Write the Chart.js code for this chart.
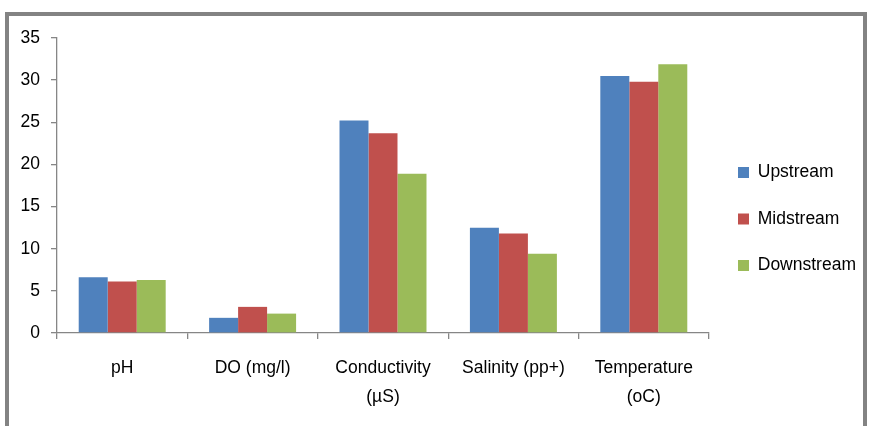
<!DOCTYPE html>
<html>
<head>
<meta charset="utf-8">
<script src="https://cdn.jsdelivr.net/npm/chart.js@4"></script>
<style>
  html, body { margin: 0; padding: 0; background: #fff; overflow: hidden; }
  #frame {
    position: absolute; left: 5px; top: 12px; width: 854px; height: 430px;
    border: 4px solid #838383; border-bottom: none;
  }
  #chart { position: absolute; left: 0; top: 0; }
</style>
</head>
<body>
<div id="frame"></div>
<canvas id="chart" width="870" height="426"></canvas>
<script>
// Water quality parameters measured at three stations along the river
const categories = [['pH'], ['DO (mg/l)'], ['Conductivity', '(\u00b5S)'], ['Salinity (pp+)'], ['Temperature', '(oC)']];
const seriesNames = ['Upstream', 'Midstream', 'Downstream'];
const upstream   = [6.6, 1.8, 25.2, 12.5, 30.5];
const midstream  = [6.1, 3.1, 23.7, 11.8, 29.8];
const downstream = [6.3, 2.3, 18.9, 9.4, 31.9];
const yTicks = [0, 5, 10, 15, 20, 25, 30, 35];

const colors = ['#4F81BD', '#C0504D', '#9BBB59'];
const FONT = 'Liberation Sans, Arial, sans-serif';
const fontSize = 17.5;
const legendPad = 29;
const axisColor = '#868686';

// room left over on the right once the legend column is laid out
const meas = document.createElement('canvas').getContext('2d');
meas.font = fontSize + 'px ' + FONT;
const longest = Math.max(...seriesNames.map(s => meas.measureText(s).width));
const legendWidth = legendPad + 10 + 11 + fontSize / 2 + longest;
const plotRight = 709;
const padRight = Math.max(0, 870 - plotRight - legendWidth);

// the legend column sits a little above the vertical middle of the plot
const legendLift = {
  id: 'legendLift',
  afterLayout(chart) {
    const lg = chart.legend;
    if (lg) { lg.top -= 13; lg.bottom -= 13; }
  }
};

new Chart(document.getElementById('chart'), {
  type: 'bar',
  data: {
    labels: categories,
    datasets: [upstream, midstream, downstream].map((d, i) => ({
      label: seriesNames[i],
      data: d,
      backgroundColor: colors[i],
      borderWidth: 0,
      categoryPercentage: 0.667,
      barPercentage: 1.0
    }))
  },
  plugins: [legendLift],
  options: {
    responsive: false,
    animation: false,
    layout: { padding: { left: 0, top: 38, right: padRight, bottom: 0 } },
    plugins: {
      title: { display: false },
      tooltip: { enabled: false },
      legend: {
        position: 'right',
        labels: {
          boxWidth: 11, boxHeight: 11, padding: legendPad,
          color: '#000', font: { family: FONT, size: fontSize }
        }
      }
    },
    scales: {
      y: {
        min: 0, max: 35,
        afterFit: s => { s.width = 57; },
        afterBuildTicks: s => { s.ticks = yTicks.map(v => ({ value: v })); },
        border: { color: axisColor, width: 1.3 },
        grid: { drawOnChartArea: false, drawTicks: true, tickLength: 6, color: axisColor, lineWidth: 1.3 },
        ticks: { color: '#000', padding: 11, font: { family: FONT, size: fontSize } }
      },
      x: {
        afterFit: s => { s.height = 426 - 333; },
        border: { color: axisColor, width: 1.3 },
        grid: { offset: true, drawOnChartArea: false, drawTicks: true, tickLength: 6, color: axisColor, lineWidth: 1.3 },
        ticks: { color: '#000', padding: 14, maxRotation: 0, autoSkip: false, font: { family: FONT, size: fontSize, lineHeight: 1.7 } }
      }
    }
  }
});
</script>
</body>
</html>
